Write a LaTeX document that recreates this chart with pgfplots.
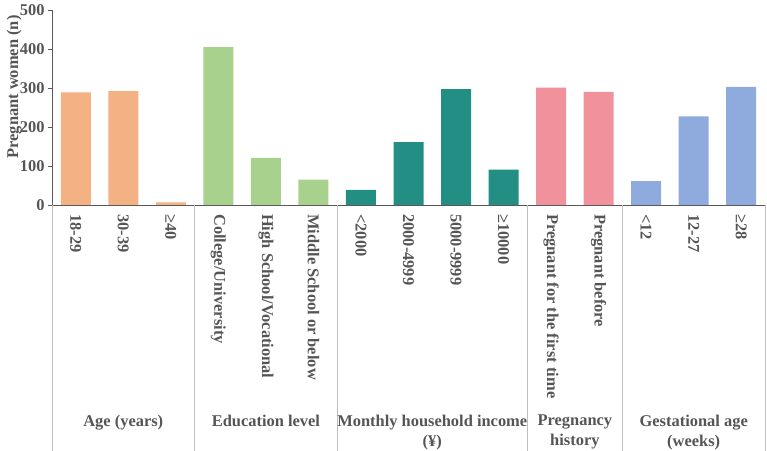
\documentclass[border=0pt]{standalone}
\usepackage{pgfplots}
\pgfplotsset{compat=1.18}
\usepackage{fontspec}
\setmainfont{Liberation Serif}

\definecolor{txtgray}{HTML}{555555}
\definecolor{axgray}{HTML}{595959}
\definecolor{sepgray}{HTML}{BFBFBF}
\definecolor{cAge}{HTML}{F4B183}
\definecolor{cEdu}{HTML}{A9D18E}
\definecolor{cInc}{HTML}{238F84}
\definecolor{cPre}{HTML}{F0919B}
\definecolor{cGes}{HTML}{8FAADC}

\newcommand{\lblfont}{\fontsize{16.5}{20}\selectfont\bfseries}

\begin{document}
\begin{tikzpicture}
\begin{axis}[
  name=ax,
  scale only axis,
  width=713bp, height=195bp,
  xmin=-0.5, xmax=14.5,
  ymin=0, ymax=500,
  ytick={0,100,...,500},
  axis x line*=bottom,
  axis y line*=left,
  axis line style={axgray, line width=0.8pt},
  y axis line style={-},
  x axis line style={-},
  ytick style={axgray, line width=0.8pt},
  major tick length=4bp,
  tick align=outside,
  xtick={0,...,14},
  xtick style={draw=none},
  xticklabels={18-29,30-39,≥40,College/University,High School/Vocational,Middle School or below,<2000,2000-4999,5000-9999,≥10000,Pregnant for the first time,Pregnant before,<12,12-27,≥28},
  xticklabel style={rotate=-90, anchor=west, inner sep=0pt, xshift=5bp,
    font=\lblfont, text=txtgray},
  yticklabel style={font=\lblfont, text=txtgray},
  /pgf/number format/assume math mode=true,
  ylabel={Pregnant women (n)},
  ylabel style={at={(axis description cs:-0.053,0.605)}, anchor=center,
    font=\lblfont, text=txtgray},
  ybar, bar width=30bp, bar shift=0pt,
  clip=false,
  every axis plot/.append style={draw=none},
]
% Age (years)
\addplot[fill=cAge] coordinates {(0,289) (1,292) (2,7)};
% Education level
\addplot[fill=cEdu] coordinates {(3,405) (4,121) (5,65)};
% Monthly household income
\addplot[fill=cInc] coordinates {(6,39) (7,161) (8,297) (9,91)};
% Pregnancy history
\addplot[fill=cPre] coordinates {(10,301) (11,290)};
% Gestational age
\addplot[fill=cGes] coordinates {(12,61) (13,227) (14,303)};

% group separators below the x axis
\pgfplotsinvokeforeach{-0.5,2.5,5.5,9.5,11.5,14.5}{
  \draw[sepgray, line width=0.8pt] (axis cs:#1,0) -- ([yshift=-246bp]axis cs:#1,0);
}
% group names
\begin{scope}[every node/.style={anchor=north, align=center, inner sep=0pt,
    font=\lblfont, text=txtgray}]
  \node at ([yshift=-210bp]axis cs:1,0) {Age (years)};
  \node at ([yshift=-210bp]axis cs:4,0) {Education level};
  \node at ([yshift=-210bp]axis cs:7.5,0) {Monthly household income\\(¥)};
  \node at ([yshift=-210bp]axis cs:10.5,0) {Pregnancy\\history};
  \node at ([yshift=-210bp]axis cs:13,0) {Gestational age\\(weeks)};
\end{scope}
\end{axis}
\pgfresetboundingbox
\path ([xshift=-52bp,yshift=-246bp]ax.south west) rectangle ([xshift=2bp,yshift=10bp]ax.north east);
\end{tikzpicture}
\end{document}
